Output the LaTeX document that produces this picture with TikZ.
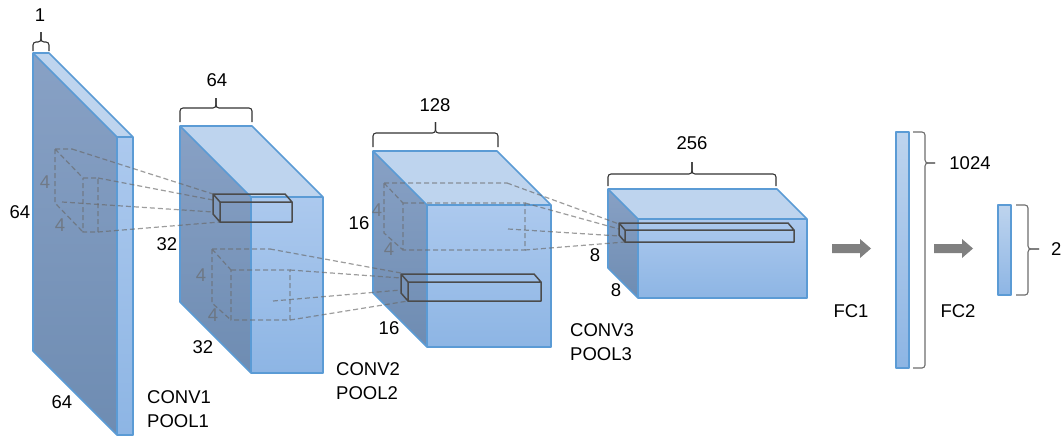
\documentclass[tikz,border=0pt]{standalone}
\usepackage{fontspec}
\setmainfont{Liberation Sans}
\definecolor{edge}{RGB}{91,155,213}
\definecolor{sidetop}{RGB}{136,161,197}
\definecolor{sidebot}{RGB}{110,140,178}
\definecolor{topface}{RGB}{190,212,238}
\definecolor{fronttop}{RGB}{172,201,238}
\definecolor{frontbot}{RGB}{141,181,228}
\definecolor{rfline}{RGB}{105,105,105}
\definecolor{boxline}{RGB}{75,75,75}
\definecolor{arrowgray}{RGB}{128,128,128}
\definecolor{bracegray}{RGB}{110,110,110}

\tikzset{
  blockedge/.style={draw=edge,line width=1.6,line join=round},
  rf/.style={draw=rfline,draw opacity=0.65,line width=1.2,dash pattern=on 5 off 3},
  kernel/.style={draw=boxline,line width=1.5,line join=round},
  brace/.style={draw=black!80,line width=1.1,rounded corners=3},
  fcbrace/.style={draw=bracegray,line width=1.1,rounded corners=3},
  lbl/.style={inner sep=0,font=\fontsize{18.5}{24}\selectfont},
  four/.style={inner sep=0,text=rfline,text opacity=0.65,font=\fontsize{18.5}{20}\selectfont},
  bigarrow/.style={fill=arrowgray},
}

% feature-map block: name, front-top-left x, y, width, height, depth
\newcommand\convblock[6]{%
  \coordinate (#1-a) at ({#2-#6},{#3-#6});
  \coordinate (#1-b) at ({#2+#4-#6},{#3-#6});
  \coordinate (#1-c) at (#2,#3);
  \coordinate (#1-d) at ({#2+#4},#3);
  \coordinate (#1-e) at ({#2+#4},{#3+#5});
  \coordinate (#1-f) at (#2,{#3+#5});
  \coordinate (#1-g) at ({#2-#6},{#3+#5-#6});
  \fill[top color=sidetop,bottom color=sidebot] (#1-a)--(#1-c)--(#1-f)--(#1-g)--cycle;
  \fill[topface] (#1-a)--(#1-b)--(#1-d)--(#1-c)--cycle;
  \fill[top color=fronttop,bottom color=frontbot] (#1-c) rectangle (#1-e);
  \draw[blockedge] (#1-a)--(#1-b)--(#1-d)--(#1-e)--(#1-f)--(#1-g)--cycle
    (#1-a)--(#1-c)--(#1-d) (#1-c)--(#1-f);
}

% kernel output box: name, front-top-left x, y, width, height, depth
\newcommand\kernelbox[6]{%
  \coordinate (#1-a) at ({#2-#6},{#3-#6-1});
  \coordinate (#1-b) at ({#2+#4-#6},{#3-#6-1});
  \coordinate (#1-c) at (#2,#3);
  \coordinate (#1-d) at ({#2+#4},#3);
  \coordinate (#1-e) at ({#2+#4},{#3+#5});
  \coordinate (#1-f) at (#2,{#3+#5});
  \coordinate (#1-g) at ({#2-#6},{#3+#5-#6-1});
  \draw[kernel] (#1-a)--(#1-b)--(#1-d)--(#1-e)--(#1-f)--(#1-g)--cycle
    (#1-a)--(#1-c)--(#1-d) (#1-c)--(#1-f);
}

% receptive field cube: name, back-left x, back-top y, back-top-right x,
% front-left x, front-top y, front-right x, back-bottom y, front-bottom y
\newcommand\rfcube[9]{%
  \coordinate (#1-bt) at (#2,#3);
  \coordinate (#1-btr) at (#4,#3);
  \coordinate (#1-ft) at (#5,#6);
  \coordinate (#1-ftr) at (#7,#6);
  \coordinate (#1-bb) at (#2,#8);
  \coordinate (#1-fb) at (#5,#9);
  \coordinate (#1-fbr) at (#7,#9);
  \draw[rf] (#1-bt)--(#1-btr) (#1-bt)--(#1-ft) (#1-bt)--(#1-bb)--(#1-fb)
    (#1-ft)--(#1-ftr)--(#1-fbr)--(#1-fb)--cycle;
}

% curly brace opening downwards: left x, right x, end y, bar y, tip y
\newcommand\topbrace[5]{%
  \draw[brace] (#1,#3)--(#1,#4)--({(#1+#2)/2},#4)--({(#1+#2)/2},#5);
  \draw[brace] (#2,#3)--(#2,#4)--({(#1+#2)/2},#4)--({(#1+#2)/2},#5);
}

\begin{document}
\begin{tikzpicture}[x=1pt,y=-1pt]
\useasboundingbox[fill=white] (0,0) rectangle (1061,445);

% ---------- input layer ----------
\convblock{L1}{117}{137}{16}{298}{84}
\topbrace{33}{49}{51}{42}{32}
\node[lbl] (t1) at (40,15) {1};
\node[lbl] (h1) at (20,212) {64};
\node[lbl] (w1) at (62,402) {64};
\rfcube{R1}{55}{149}{72}{83}{178}{98}{203}{232}
\node[four] (f1a) at (45,182) {4};
\node[four] (f1b) at (60,225) {4};
\coordinate (R1-m) at (62,202);

% ---------- CONV1 / POOL1 output ----------
\convblock{L2}{251}{197}{72}{176}{71}
\topbrace{180}{252}{122}{108}{98}
\node[lbl] (t2) at (217,80) {64};
\node[lbl] (h2) at (167,244) {32};
\node[lbl] (w2) at (203,347) {32};
\coordinate (K2-m) at (213,212);
\draw[rf] (R1-btr)--(213,194) (R1-ftr)--(213,200) (R1-m)--(K2-m) (R1-fbr)--(220,222);
\kernelbox{K2}{220}{202}{72}{20}{7}
\rfcube{R2}{212}{249}{270}{231}{270}{290}{303}{320}
\node[four] (f2a) at (201,275) {4};
\node[four] (f2b) at (213,315) {4};
\coordinate (R2-m) at (273,301);

% ---------- CONV2 / POOL2 output ----------
\convblock{L3}{427}{205}{124}{142}{54}
\topbrace{373}{498}{147}{133}{122}
\node[lbl] (t3) at (435,105) {128};
\node[lbl] (h3) at (359,223) {16};
\node[lbl] (w3) at (389,328) {16};
\draw[rf] (R2-btr)--(401,273) (R2-ftr)--(401,278) (R2-m)--(401,290) (R2-fbr)--(408,301);
\kernelbox{K3}{408}{282}{133}{19}{7}
\rfcube{R3}{384}{183}{507}{403}{203}{525}{233}{250}
\node[four] (f3a) at (377,210) {4};
\node[four] (f3b) at (389,249) {4};
\coordinate (R3-m) at (508,229);

% ---------- CONV3 / POOL3 output ----------
\convblock{L4}{638}{219}{169}{79}{30}
\topbrace{608}{776}{186}{174}{162}
\node[lbl] (t4) at (692,143) {256};
\node[lbl] (h4) at (595,255) {8};
\node[lbl] (w4) at (616,290) {8};
\draw[rf] (R3-btr)--(619,224) (R3-ftr)--(619,229) (R3-m)--(619,236) (R3-fbr)--(625,242);
\kernelbox{K4}{625}{230}{169}{12}{6}

% ---------- fully connected layers ----------
\path[bigarrow] (832,244)--(860,244)--(860,239)--(871,248.5)--(860,258)--(860,253)--(832,253)--cycle;
\path[bigarrow] (934,244)--(962,244)--(962,239)--(973,248.5)--(962,258)--(962,253)--(934,253)--cycle;

\draw[blockedge,top color=topface,bottom color=frontbot,line width=1.4] (896,132) rectangle (909,368);
\draw[fcbrace] (913,132)--(925,132)--(925,163)--(935,163);
\draw[fcbrace] (913,368)--(925,368)--(925,163)--(935,163);
\node[lbl] (n1024) at (970,163) {1024};

\draw[blockedge,top color=topface,bottom color=frontbot,line width=1.4] (998,205) rectangle (1011,295);
\draw[fcbrace] (1016,205)--(1028,205)--(1028,249)--(1039,249);
\draw[fcbrace] (1016,295)--(1028,295)--(1028,249)--(1039,249);
\node[lbl,anchor=west] (n2) at (1051,249) {2};

% ---------- layer captions ----------
\node[lbl,anchor=north west,align=left] (c1) at (147,390) {CONV1\\POOL1};
\node[lbl,anchor=north west,align=left] (c2) at (336,362) {CONV2\\POOL2};
\node[lbl,anchor=north west,align=left] (c3) at (570,323) {CONV3\\POOL3};
\node[lbl] (fc1) at (851,311) {FC1};
\node[lbl] (fc2) at (958,311) {FC2};
\end{tikzpicture}
\end{document}
